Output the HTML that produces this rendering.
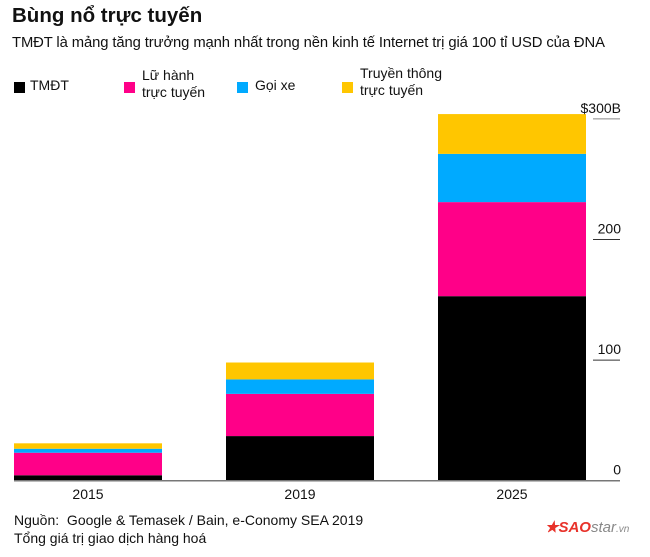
<!DOCTYPE html>
<html><head><meta charset="utf-8"><style>
body{margin:0;background:#fff;font-family:"Liberation Sans",sans-serif;}
#c{position:relative;width:650px;height:557px;overflow:hidden;}
.t{position:absolute;white-space:nowrap;color:#111;}
.sq{position:absolute;width:11px;height:11px;}
</style></head><body><div id="c">
<div class="t" style="left:12px;top:4px;font-size:20.5px;font-weight:bold;">Bùng nổ trực tuyến</div>
<div class="t" style="left:12px;top:35px;font-size:14.8px;letter-spacing:-0.1px;">TMĐT là mảng tăng trưởng mạnh nhất trong nền kinh tế Internet trị giá 100 tỉ USD của ĐNA</div>
<div class="sq" style="left:14px;top:82px;background:#000"></div>
<div class="t" style="left:30px;top:77px;font-size:14px;">TMĐT</div>
<div class="sq" style="left:124px;top:82px;background:#ff0088"></div>
<div class="t" style="left:142px;top:67px;font-size:14px;line-height:17px;">Lữ hành<br>trực tuyến</div>
<div class="sq" style="left:237px;top:82px;background:#00aaff"></div>
<div class="t" style="left:255px;top:77px;font-size:14px;">Gọi xe</div>
<div class="sq" style="left:342px;top:82px;background:#ffc600"></div>
<div class="t" style="left:360px;top:65px;font-size:14px;line-height:17px;">Truyền thông<br>trực tuyến</div>
<svg id="s" width="650" height="557" style="position:absolute;left:0;top:0"></svg>
<div class="t" style="left:14px;top:512px;font-size:14px;">Nguồn:&nbsp; Google &amp; Temasek / Bain, e-Conomy SEA 2019</div>
<div class="t" style="left:14px;top:530px;font-size:14px;">Tổng giá trị giao dịch hàng hoá</div>
<div class="t" style="left:545px;top:518px;font-size:15px;font-weight:bold;font-style:italic;color:#e8322a;">★SAO<span style="color:#888;font-weight:normal">star</span><span style="font-size:10px;color:#888;font-weight:normal">.vn</span></div>
</div>
<script>
const categories=["2015","2019","2025"];
const tmdt=[4.5,37,153];
const travel=[18.7,35,78];
const ride=[3.3,12,40];
const media=[4.5,14,33];
const ticks=[0,100,200,300];
const tickLabels=["0","100","200","$300B"];
const colors=["#000","#ff0088","#00aaff","#ffc600"];
const names=["tmdt","travel","ride","media"];
const series=[tmdt,travel,ride,media];
const NS="http://www.w3.org/2000/svg",svg=document.getElementById('s');
const y0=480.7,k=1.206;
const y=v=>y0-v*k;
const x=i=>14+i*212;
const bw=148;
function mk(t,a){const e=document.createElementNS(NS,t);for(const q in a)e.setAttribute(q,a[q]);svg.appendChild(e);return e;}
categories.forEach((c,i)=>{
  let acc=0;
  series.forEach((s,j)=>{
    const r=mk('rect',{x:x(i),y:y(acc+s[i]),width:bw,height:s[i]*k,fill:colors[j]});
    
    
    acc+=s[i];
  });
  const t=mk('text',{x:x(i)+bw/2,y:499,'text-anchor':'middle','font-size':14,fill:'#111','font-family':'Liberation Sans'});
  t.textContent=c;
  
  
});
ticks.forEach((v,i)=>{
  if(v>0){const l=mk('line',{x1:593,x2:620,y1:y(v),y2:y(v),stroke:i==3?'#888':'#333','stroke-width':1});
  
  }
  const t=mk('text',{x:621,y:y(v)-6,'text-anchor':'end','font-size':14,fill:'#111','font-family':'Liberation Sans'});
  t.textContent=tickLabels[i];
  
  
});
const b=mk('line',{x1:14,x2:620,y1:y0,y2:y0,stroke:'#777','stroke-width':1.5});


</script></body></html>
